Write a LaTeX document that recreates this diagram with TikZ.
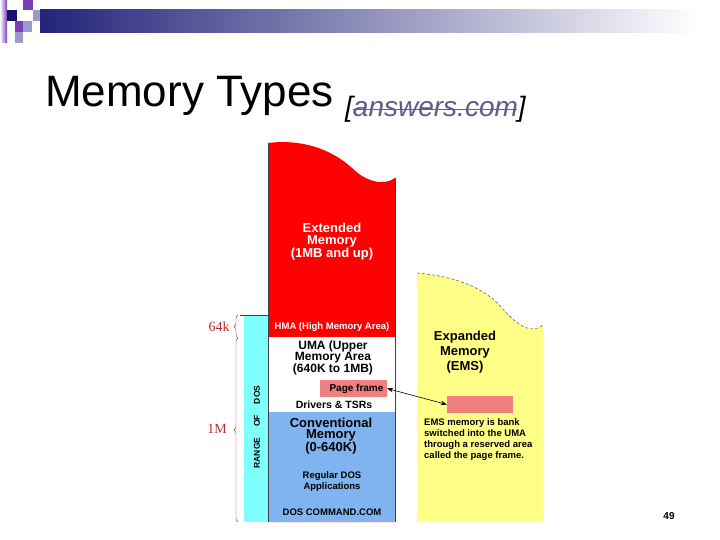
\documentclass[tikz,border=0pt]{standalone}
\usepackage{fontspec}
\setmainfont{Liberation Sans}
\newfontfamily\braceserif{Liberation Serif}
\usetikzlibrary{arrows.meta,decorations.pathreplacing}
\definecolor{navybar}{HTML}{23237A}
\definecolor{sqpurple}{HTML}{7B3FB5}
\definecolor{sqlav}{HTML}{9A9ACF}
\definecolor{sqnavy}{HTML}{14146E}
\definecolor{extred}{HTML}{FF0000}
\definecolor{rangecyan}{HTML}{80FFFF}
\definecolor{convblue}{HTML}{80B4F0}
\definecolor{pgsalmon}{HTML}{F08080}
\definecolor{emsyellow}{HTML}{FFFF88}
\definecolor{bracered}{HTML}{B03030}
\definecolor{linkgray}{HTML}{5C5C90}
\tikzset{big/.style={font=\bfseries\fontsize{13}{11.5}\selectfont,align=center,inner sep=0pt},small/.style={font=\bfseries\fontsize{9.5}{11}\selectfont,align=center,inner sep=0pt},pframe/.style={fill=pgsalmon,minimum width=67pt,minimum height=17pt,inner sep=0pt},brc/.style={decorate,decoration={brace,amplitude=4pt},draw=bracered,thin},sizelab/.style={font=\braceserif\fontsize{14}{14}\selectfont,text=bracered,inner sep=0pt},link/.style={{Stealth[length=6pt]}-{Stealth[length=6pt]},semithick}}

\begin{document}
\begin{tikzpicture}[x=1pt,y=-1pt]
\useasboundingbox (0,0) rectangle (720,540);
\fill[white] (0,0) rectangle (720,540);
% header bar and squares
\shade[left color=navybar,right color=white] (40,10) rectangle (700,33);
\shade[left color=white,right color=sqpurple] (0,0) rectangle (7,43);
\fill[sqnavy] (7,10) rectangle (17,21);
\fill[sqpurple] (23,0) rectangle (33,10);
\fill[sqlav] (33,10) rectangle (40,21);
\fill[sqpurple] (15,21) rectangle (23,32);
\fill[sqlav] (23,21) rectangle (32,32);
\fill[sqlav] (15,32) rectangle (23,43);
% title
\node[anchor=base west,inner sep=0pt,font=\fontsize{44}{44}\selectfont] (title) at (45,107) {Memory Types};
\node[anchor=base west,inner sep=0pt,font=\itshape\fontsize{28}{28}\selectfont] (source) at (345,117) {[\textcolor{linkgray}{answers.com}]};
\draw[linkgray,thick] ([xshift=8pt,yshift=8pt]source.base west) -- ([xshift=-9pt,yshift=8pt]source.base east);
% memory column
\fill[extred] (268,522) -- (268,143) .. controls (300,139) and (330,148) .. (352,168) .. controls (366,182) and (384,186) .. (395,178) -- (395,522) -- cycle;
\fill[white] (268,337) rectangle (395,412);
\fill[convblue] (268,412) rectangle (395,522);
\fill[rangecyan] (244,315) rectangle (268,522);
\draw[black!75] (240,315) -- (268,315);
\draw[black!75] (268,143) -- (268,522);
\draw[black!75] (395,178) -- (395,522);
% expanded memory
\fill[emsyellow] (417,522) -- (417,273) .. controls (452,276) and (482,286) .. (500,306) .. controls (514,322) and (530,336) .. (543,325) -- (543,522) -- cycle;
\draw[densely dashed,black!80] (417,273) .. controls (452,276) and (482,286) .. (500,306) .. controls (514,322) and (530,336) .. (543,325);
% texts
\node[big,text=white] (ext) at (332,241.5) {Extended\\Memory\\(1MB and up)};
\node[small,text=white] (hma) at (332,327) {HMA (High Memory Area)};
\node[big,font=\bfseries\fontsize{12}{11}\selectfont] (uma) at (333,358) {UMA (Upper\\Memory Area\\(640K to 1MB)};
\node[pframe,font=\bfseries\fontsize{10}{10}\selectfont] (pgframe) at (353.5,388.5) {\hspace{6pt}Page frame};
\node[small,font=\bfseries\fontsize{10.5}{11}\selectfont] (drivers) at (334,405) {Drivers \& TSRs};
\node[big] (conv) at (331,436) {Conventional\\Memory\\(0-640K)};
\node[small] (regdos) at (332,482) {Regular DOS\\Applications};
\node[small] (command) at (332,512) {DOS COMMAND.COM};
\node[small,rotate=90,font=\bfseries\fontsize{8.5}{9}\selectfont] (range) at (257,427) {RANGE\quad\ OF\quad\ DOS};
\node[big,font=\bfseries\fontsize{13}{15}\selectfont] (ems) at (465,352) {Expanded\\Memory\\(EMS)};
\node[pframe,minimum width=66pt] (emsframe) at (480,404.5) {};
\node[small,align=left,anchor=west] (emsnote) at (424,440) {EMS memory is bank\\switched into the UMA\\through a reserved area\\called the page frame.};
\draw[link] (pgframe.east) -- (emsframe.west);
% size braces
\coordinate (b64top) at (238,315);
\coordinate (b64bot) at (238,338);
\coordinate (b1mbot) at (238,522);
\draw[brc] (b64bot) -- (b64top);
\draw[brc] (b1mbot) -- (b64bot);
\node[sizelab] (lbl64k) at (219,327) {64k};
\node[sizelab] (lbl1m) at (217,429) {1M};
% page number
\node[font=\bfseries\fontsize{10}{10}\selectfont,inner sep=0pt] (pagenum) at (669,516) {49};
\end{tikzpicture}
\end{document}
